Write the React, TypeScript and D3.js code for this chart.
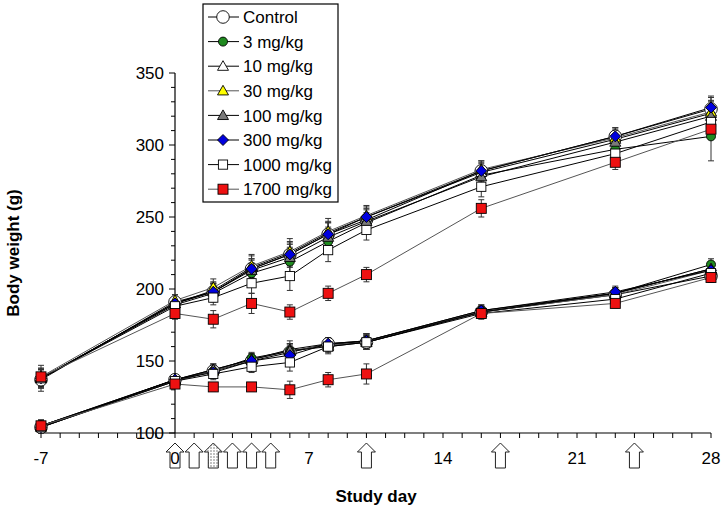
import React from "react";
import * as d3 from "d3";

// ---- data ----
const days = [-7, 0, 2, 4, 6, 8, 10, 16, 23, 28];
const groupNames = ["Control", "3 mg/kg", "10 mg/kg", "30 mg/kg", "100 mg/kg", "300 mg/kg", "1000 mg/kg", "1700 mg/kg"];
const groupShapes = ["circle", "dot", "triangle", "triangle", "triangle", "diamond", "square", "square"];
const groupFills = ["#ffffff", "#1f8a1f", "#ffffff", "#ffff00", "#7a7a7a", "#0000dd", "#ffffff", "#ee1111"];
const groupLines = ["#000000", "#000000", "#000000", "#555555", "#000000", "#000000", "#000000", "#555555"];

// males (upper curves)
const maleControl = [137, 191, 198, 214, 224, 238, 248, 282, 306, 325];
const male3 = [138, 189, 197, 211, 219, 233, 246, 279, 297, 306];
const male10 = [138, 190, 199, 215, 225, 239, 250, 281, 304, 322];
const male30 = [139, 192, 201, 216, 226, 240, 251, 283, 305, 323];
const male100 = [138, 190, 198, 213, 222, 236, 247, 278, 302, 320];
const male300 = [138, 190, 198, 214, 224, 238, 250, 282, 306, 326];
const male1000 = [138, 188, 194, 204, 209, 227, 241, 271, 294, 316];
const male1700 = [139, 183, 179, 190, 184, 197, 210, 256, 288, 311];
const maleControlSd = [8, 5, 6, 7, 8, 8, 7, 7, 6, 8];
const male3Sd = [6, 4, 6, 7, 7, 7, 6, 6, 6, 17];
const male10Sd = [6, 4, 6, 8, 8, 8, 7, 6, 6, 8];
const male30Sd = [6, 4, 6, 8, 9, 9, 7, 6, 6, 8];
const male100Sd = [6, 4, 6, 7, 7, 7, 6, 6, 6, 8];
const male300Sd = [6, 4, 6, 7, 7, 8, 6, 6, 6, 8];
const male1000Sd = [6, 4, 5, 7, 10, 8, 7, 7, 6, 8];
const male1700Sd = [8, 4, 6, 7, 5, 5, 5, 6, 5, 6];

// females (lower curves)
const femaleControl = [104, 137, 143, 150, 156, 162, 163, 184, 196, 209];
const female3 = [105, 136, 143, 152, 157, 161, 164, 185, 197, 217];
const female10 = [105, 137, 144, 151, 158, 162, 164, 184, 197, 214];
const female30 = [104, 136, 143, 151, 157, 161, 163, 184, 196, 213];
const female100 = [105, 137, 144, 151, 157, 160, 163, 184, 197, 214];
const female300 = [104, 137, 142, 150, 154, 162, 164, 185, 198, 213];
const female1000 = [104, 136, 141, 146, 149, 160, 163, 183, 193, 211];
const female1700 = [105, 134, 132, 132, 130, 137, 141, 183, 190, 208];
const femaleControlSd = [4, 3, 4, 4, 5, 4, 5, 4, 4, 4];
const female3Sd = [4, 3, 4, 4, 5, 4, 5, 4, 4, 4];
const female10Sd = [4, 3, 4, 4, 6, 4, 5, 4, 4, 4];
const female30Sd = [4, 3, 4, 4, 5, 4, 5, 4, 4, 4];
const female100Sd = [4, 3, 4, 4, 5, 4, 5, 4, 4, 4];
const female300Sd = [4, 3, 4, 4, 5, 4, 5, 4, 4, 4];
const female1000Sd = [4, 3, 4, 4, 6, 5, 5, 4, 4, 4];
const female1700Sd = [3, 3, 3, 3, 6, 5, 7, 3, 3, 3];

const dosingDays = [0, 1, 2, 3, 4, 5, 10, 17, 24];
const hatchedDay = 2;
const xTickLabels = [-7, 0, 7, 14, 21, 28];
const yTickLabels = [100, 150, 200, 250, 300, 350];

const maleSeries = [maleControl, male3, male10, male30, male100, male300, male1000, male1700];
const maleSds = [maleControlSd, male3Sd, male10Sd, male30Sd, male100Sd, male300Sd, male1000Sd, male1700Sd];
const femaleSeries = [femaleControl, female3, female10, female30, female100, female300, female1000, female1700];
const femaleSds = [femaleControlSd, female3Sd, female10Sd, female30Sd, female100Sd, female300Sd, female1000Sd, female1700Sd];

const FONT = "'Liberation Sans', Arial, sans-serif";

function Marker({ shape, fill, cx, cy }: { shape: string; fill: string; cx: number; cy: number }) {
  const st = { fill, stroke: "#000", strokeWidth: 0.9 };
  if (shape === "circle") return <circle cx={cx} cy={cy} r={6.3} {...st} />;
  if (shape === "dot") return <circle cx={cx} cy={cy} r={4.5} {...st} />;
  if (shape === "triangle") {
    const s = 5.5;
    return <path d={`M${cx},${cy - s}L${cx + s},${cy + s * 0.75}L${cx - s},${cy + s * 0.75}Z`} {...st} />;
  }
  if (shape === "diamond") {
    const s = 5.5;
    return <path d={`M${cx},${cy - s}L${cx + s},${cy}L${cx},${cy + s}L${cx - s},${cy}Z`} {...st} />;
  }
  const h = fill === "#ffffff" ? 4.6 : 5;
  return <rect x={cx - h} y={cy - h} width={2 * h} height={2 * h} {...st} />;
}

export default function App() {
  const x = d3.scaleLinear().domain([-7, 28]).range([41, 711]);
  const y = d3.scaleLinear().domain([100, 350]).range([433, 73]);
  const line = d3.line<number>().x((_, i) => x(days[i])).y((v) => y(v));

  const dayTicks = d3.range(-7, 29);
  const yMinor = d3.range(100, 351, 10);

  const renderGroup = (series: number[][], sds: number[][], key: string) => (
    <g key={key}>
      {series.map((vals, gi) => (
        <g key={gi}>
          <path d={line(vals) || ""} fill="none" stroke={groupLines[gi]} strokeWidth={1} />
          {vals.map((v, i) => {
            const sd = sds[gi][i];
            const cx = x(days[i]);
            return (
              <g key={i}>
                <line x1={cx} x2={cx} y1={y(v - sd)} y2={y(v + sd)} stroke="#333" strokeWidth={1} />
                <line x1={cx - 3} x2={cx + 3} y1={y(v + sd)} y2={y(v + sd)} stroke="#333" strokeWidth={1} />
                <line x1={cx - 3} x2={cx + 3} y1={y(v - sd)} y2={y(v - sd)} stroke="#333" strokeWidth={1} />
              </g>
            );
          })}
        </g>
      ))}
      {series.map((vals, gi) => (
        <g key={"m" + gi}>
          {vals.map((v, i) => (
            <Marker key={i} shape={groupShapes[gi]} fill={groupFills[gi]} cx={x(days[i])} cy={y(v)} />
          ))}
        </g>
      ))}
    </g>
  );

  const arrowPath = (cx: number) => {
    const top = 443, headBase = 452, bottom = 468, hw = 9, sw = 5;
    return `M${cx},${top}L${cx + hw},${headBase}L${cx + sw},${headBase}L${cx + sw},${bottom}L${cx - sw},${bottom}L${cx - sw},${headBase}L${cx - hw},${headBase}Z`;
  };

  const legendX = 203, legendY = 4, legendW = 135, legendH = 198;
  const legendRow = 24.6;

  return (
    <svg width={725} height={511} style={{ position: "absolute", left: 0, top: 0, background: "#fff" }} fontFamily={FONT}>
      <defs>
        <pattern id="dots" width="3" height="3" patternUnits="userSpaceOnUse">
          <rect width="3" height="3" fill="#fff" />
          <circle cx="1" cy="1" r="0.7" fill="#555" />
        </pattern>
      </defs>
      <rect width={725} height={511} fill="#fff" />

      {/* dosing arrows */}
      {dosingDays.map((d) => (
        <path key={d} d={arrowPath(x(d))} fill={d === hatchedDay ? "url(#dots)" : "#fff"} stroke="#222" strokeWidth={1} />
      ))}

      {/* Y axis */}
      <line x1={x(0)} x2={x(0)} y1={y(100)} y2={y(350)} stroke="#000" strokeWidth={1.2} />
      {yMinor.map((v) => (
        <line key={v} x1={x(0) - (v % 50 === 0 ? 6 : 4)} x2={x(0)} y1={y(v)} y2={y(v)} stroke="#000" strokeWidth={1} />
      ))}
      {yTickLabels.map((v) => (
        <text key={v} x={164} y={y(v)} dy="0.36em" textAnchor="end" fontSize={17} fill="#000">{v}</text>
      ))}

      {/* X axis */}
      <line x1={x(-7)} x2={x(28)} y1={y(100)} y2={y(100)} stroke="#000" strokeWidth={1.2} />
      {dayTicks.map((d) => (
        <line key={d} x1={x(d)} x2={x(d)} y1={y(100)} y2={y(100) + 5} stroke="#000" strokeWidth={1} />
      ))}
      {xTickLabels.map((d) => (
        <text key={d} x={x(d)} y={464} textAnchor="middle" fontSize={17} fill="#000">{d}</text>
      ))}

      <text x={376} y={502} textAnchor="middle" fontSize={17} fontWeight="bold" fill="#000">Study day</text>
      <text transform="translate(19,253) rotate(-90)" textAnchor="middle" fontSize={17} fontWeight="bold" fill="#000">Body weight (g)</text>

      {renderGroup(femaleSeries, femaleSds, "f")}
      {renderGroup(maleSeries, maleSds, "m")}

      {/* legend */}
      <rect x={legendX} y={legendY} width={legendW} height={legendH} fill="#fff" stroke="#000" strokeWidth={1.2} />
      {groupNames.map((name, gi) => {
        const cy = 17 + gi * legendRow;
        return (
          <g key={name}>
            <line x1={208} x2={239} y1={cy} y2={cy} stroke={groupLines[gi]} strokeWidth={1} />
            <Marker shape={groupShapes[gi]} fill={groupFills[gi]} cx={223} cy={cy} />
            <text x={243} y={cy} dy="0.36em" fontSize={17} fill="#000">{name}</text>
          </g>
        );
      })}
    </svg>
  );
}
